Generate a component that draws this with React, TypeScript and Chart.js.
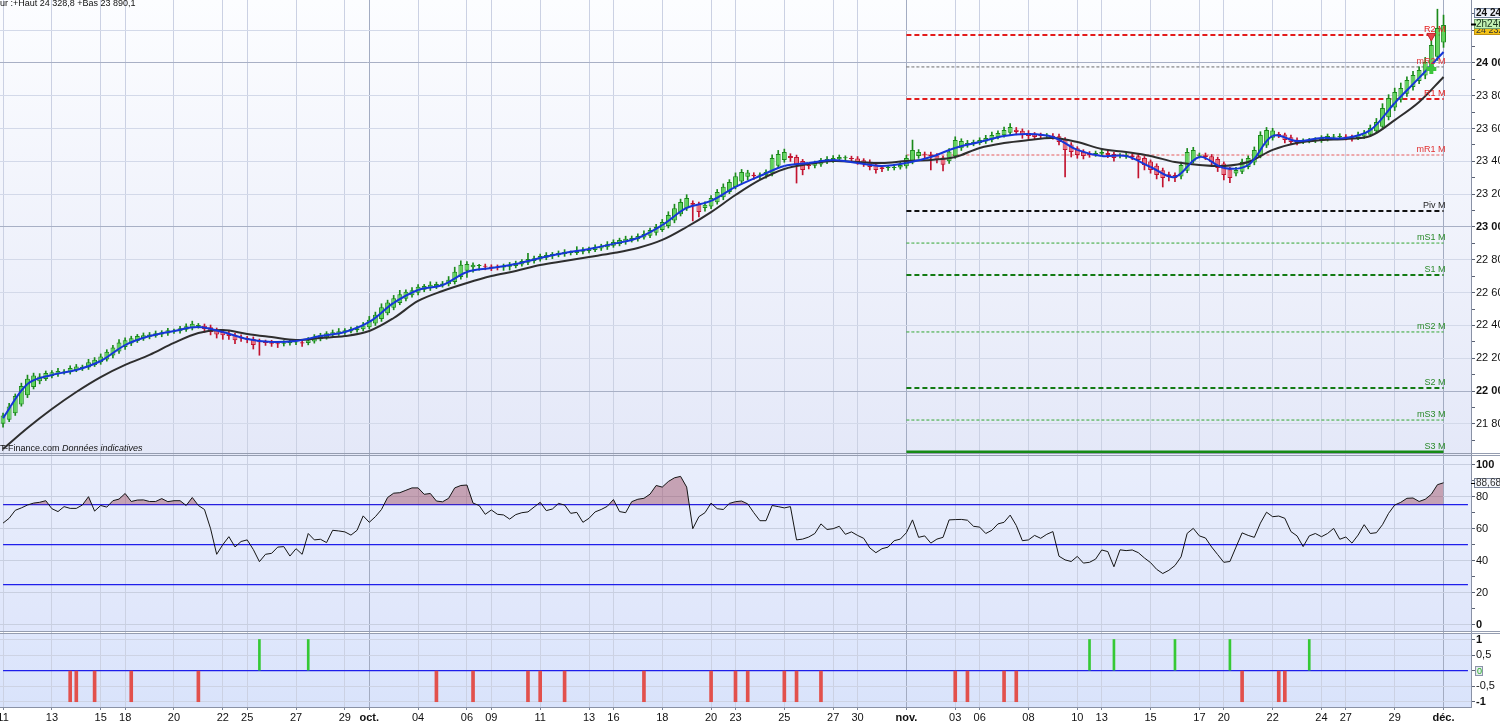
import { useEffect, useRef } from 'react';
import { Chart, registerables } from 'chart.js';

Chart.register(...registerables);

const FONT = "'Liberation Sans', Arial, Helvetica, sans-serif";

// ---------------- data ----------------
const days = ['11','12','13','14','15','18','19','20','21','22','25','26','27','28','29','oct.','03','04','05','06','09','10','11','12','13','16','17','18','19','20','23','24','25','26','27','30','31','nov.','02','03','06','07','08','09','10','13','14','15','16','17','20','21','22','23','24','27','28','29','30','déc.'];
const shownDays = [0, 2, 4, 5, 7, 9, 10, 12, 14, 15, 17, 19, 20, 22, 24, 25, 27, 29, 30, 32, 34, 35, 37, 39, 40, 42, 44, 45, 47, 49, 50, 52, 54, 55, 57, 59];
const monthStartDays = [15, 37, 59];
const candlesPerDay = 4;

const firstOpen = 21800;
const closes = [
  21850, 21905, 21970, 22030, 22075, 22095, 22088, 22110, 22115, 22122, 22118, 22140,
  22150, 22148, 22175, 22190, 22210, 22240, 22265, 22295, 22310, 22322, 22335, 22340,
  22345, 22352, 22358, 22370, 22368, 22382, 22395, 22410, 22400, 22378, 22360, 22345,
  22340, 22335, 22310, 22320, 22312, 22280, 22298, 22292, 22288, 22285, 22295, 22300,
  22298, 22290, 22310, 22330, 22340, 22352, 22358, 22365, 22370, 22378, 22382, 22400,
  22435, 22465, 22510, 22540, 22565, 22590, 22605, 22615, 22635, 22640, 22648, 22652,
  22656, 22678, 22727, 22770, 22775, 22770, 22762, 22757, 22750, 22752, 22762, 22768,
  22780, 22792, 22805, 22810, 22823, 22830, 22835, 22842, 22848, 22842, 22855, 22860,
  22865, 22878, 22885, 22895, 22908, 22920, 22928, 22933, 22945, 22958, 22982, 23000,
  23030, 23073, 23115, 23152, 23177, 23135, 23092, 23135, 23177, 23213, 23245, 23275,
  23310, 23335, 23332, 23310, 23318, 23335, 23420, 23445, 23457, 23420, 23378, 23348,
  23372, 23390, 23409, 23415, 23420, 23427, 23420, 23415, 23396, 23385, 23366, 23348,
  23354, 23360, 23366, 23378, 23420, 23470, 23458, 23440, 23430, 23410, 23380, 23460,
  23530, 23524, 23512, 23518, 23530, 23543, 23561, 23573, 23591, 23610, 23580, 23561,
  23555, 23549, 23555, 23558, 23549, 23518, 23470, 23457, 23439, 23433, 23439, 23451,
  23457, 23439, 23420, 23433, 23439, 23427, 23409, 23378, 23348, 23317, 23299, 23311,
  23299, 23378, 23457, 23470, 23439, 23427, 23396, 23360, 23317, 23299, 23348, 23396,
  23420, 23470, 23561, 23591, 23588, 23561, 23530, 23518, 23512, 23524, 23530, 23533,
  23543, 23555, 23549, 23555, 23543, 23537, 23561, 23573, 23604, 23640, 23726, 23787,
  23823, 23848, 23896, 23927, 23957, 24006, 24110, 24213, 24232,
];
const wickUp = [
  15, 20, 12, 18, 22, 14, 18, 12, 10, 16, 12, 14, 12, 10, 18, 14, 16, 12, 14, 18,
  14, 12, 10, 14, 12, 14, 10, 12, 10, 12, 14, 16, 12, 10, 14, 10, 12, 14, 10, 16,
  10, 12, 18, 12, 14, 10, 12, 14, 10, 12, 16, 14, 12, 10, 14, 16, 10, 12, 14, 18,
  20, 16, 22, 14, 18, 24, 12, 16, 14, 10, 18, 12, 12, 20, 28, 24, 14, 12, 10, 12,
  10, 14, 12, 16, 12, 10, 35, 12, 12, 14, 10, 12, 14, 12, 25, 14, 12, 14, 10, 16,
  14, 12, 16, 12, 14, 18, 12, 16, 16, 20, 24, 18, 20, 14, 12, 18, 14, 16, 18, 14,
  20, 16, 14, 12, 12, 14, 20, 22, 18, 14, 12, 10, 14, 12, 10, 14, 16, 12, 14, 12,
  12, 10, 14, 12, 10, 14, 12, 16, 18, 60, 14, 12, 14, 12, 10, 18, 20, 14, 16, 12,
  14, 16, 18, 14, 18, 20, 14, 12, 14, 12, 16, 12, 12, 14, 10, 12, 10, 12, 14, 12,
  14, 12, 10, 14, 12, 10, 14, 10, 10, 12, 14, 12, 14, 18, 22, 16, 12, 14, 10, 12,
  10, 12, 16, 18, 14, 18, 20, 16, 14, 12, 10, 14, 12, 14, 10, 12, 14, 12, 16, 14,
  12, 14, 18, 16, 18, 22, 26, 20, 24, 30, 20, 22, 20, 28, 60, 115, 60,
];
const wickDn = [
  20, 12, 14, 10, 14, 12, 16, 10, 12, 14, 10, 12, 10, 14, 12, 10, 12, 10, 14, 12,
  14, 12, 10, 12, 12, 10, 14, 12, 10, 12, 10, 12, 14, 20, 18, 22, 25, 20, 22, 18,
  18, 24, 80, 14, 16, 20, 14, 12, 14, 18, 12, 10, 10, 12, 14, 10, 12, 10, 12, 10,
  10, 12, 14, 10, 12, 10, 14, 12, 14, 12, 16, 14, 12, 10, 12, 14, 40, 30, 25, 18,
  16, 14, 18, 20, 12, 10, 12, 14, 10, 12, 14, 10, 14, 12, 10, 12, 12, 10, 12, 14,
  10, 12, 14, 10, 12, 10, 12, 14, 10, 12, 14, 10, 14, 98, 30, 20, 14, 12, 16, 10,
  12, 14, 18, 20, 22, 18, 14, 12, 14, 20, 110, 30, 18, 14, 12, 10, 12, 14, 16, 12,
  14, 16, 18, 20, 16, 14, 12, 10, 12, 10, 14, 18, 82, 20, 38, 14, 12, 14, 16, 12,
  10, 12, 14, 10, 12, 14, 18, 20, 16, 14, 12, 14, 14, 18, 165, 30, 20, 18, 14, 12,
  14, 16, 18, 12, 14, 16, 110, 30, 20, 24, 55, 30, 22, 14, 12, 10, 14, 16, 20, 22,
  30, 28, 14, 12, 12, 14, 10, 12, 14, 16, 18, 14, 12, 14, 10, 12, 14, 12, 10, 12,
  12, 14, 10, 12, 10, 12, 14, 16, 18, 14, 16, 20, 16, 20, 18, 22, 30,
];
// fast moving average (blue/red) and slow moving average (black), one reading per day + last candle
const emaDaily = [
  21835, 22043, 22098, 22128, 22183, 22280, 22335, 22366, 22390, 22360,
  22317, 22299, 22305, 22335, 22360, 22421, 22537, 22616, 22646, 22726,
  22750, 22774, 22811, 22841, 22866, 22897, 22933, 23012, 23116, 23159,
  23244, 23311, 23372, 23390, 23409, 23390, 23372, 23390, 23427, 23482,
  23518, 23555, 23567, 23549, 23470, 23433, 23433, 23366, 23305, 23427,
  23360, 23378, 23555, 23524, 23543, 23543, 23591, 23756, 23909, 24067,
];
const smaDaily = [
  21646, 21774, 21890, 21994, 22085, 22159, 22220, 22293, 22354, 22372,
  22348, 22329, 22311, 22323, 22335, 22366, 22445, 22549, 22610, 22659,
  22701, 22732, 22768, 22793, 22817, 22841, 22872, 22921, 23000, 23091,
  23195, 23287, 23354, 23384, 23402, 23396, 23390, 23402, 23409, 23427,
  23482, 23512, 23530, 23543, 23518, 23476, 23457, 23433, 23396, 23378,
  23372, 23396, 23470, 23512, 23530, 23537, 23555, 23652, 23762, 23915,
];
const rsi = [
  63.5, 66.5, 71.5, 73, 74.8, 76, 76.5, 77.5, 72.5, 70.7,
  73.8, 72.7, 72.7, 74.8, 80, 71, 74.5, 73.5, 77.5, 78.5,
  82, 77, 77.9, 78, 77, 77, 78.8, 76.9, 77.5, 77.5,
  74.5, 79.5, 74.5, 72, 60, 44, 50, 55, 48.6, 52,
  53, 47, 39.4, 44, 44.6, 48.5, 48.8, 42.9, 47.5, 44,
  57, 53, 53.4, 51.3, 59, 58.6, 58, 56, 59, 68,
  64, 67.5, 72, 79.5, 82.2, 82.5, 84, 85.5, 85.5, 81.5,
  82, 77.3, 76.8, 79, 85.5, 87, 87.3, 76, 74.5, 69,
  71.7, 69, 68.6, 66, 68.8, 70, 70.5, 73.5, 76.5, 71.3,
  72.3, 75.8, 74.8, 69.6, 70.2, 64, 66.5, 70.5, 72, 74,
  78.2, 70.7, 70, 76.9, 78.4, 79, 81.6, 87, 86, 89.5,
  91.8, 92.7, 86, 60, 67.5, 70, 76, 72.5, 72, 75.8,
  76.9, 77.3, 75.5, 70, 65, 65, 74.5, 73.8, 73, 73.8,
  53, 53.5, 54.8, 57, 63, 59.5, 60, 61.5, 56.5, 58,
  55.8, 54, 48, 45, 47.5, 48.5, 52.5, 53.5, 57.5, 65.5,
  54.6, 55.5, 51, 53.5, 54.6, 65.5, 65.7, 65.8, 65.3, 61.5,
  61, 57, 59, 63, 64, 68.5, 62, 52.5, 53, 55.8,
  54, 56.5, 58.2, 42.8, 40.5, 39.5, 42.7, 38.5, 39, 41,
  46.7, 45.7, 36.2, 46.8, 46.3, 46.7, 45, 41.7, 38.8, 34.6,
  32, 34, 37, 42.4, 57.1, 60.2, 55.5, 54.2, 48.6, 43.8,
  39, 39.5, 48.5, 57.4, 55.8, 54.6, 63.5, 70.3, 67.5, 67.9,
  66.5, 58.2, 55.5, 48.8, 55.5, 57, 55, 57, 60.2, 53.4,
  54.8, 51, 56, 62.5, 57, 57.5, 62.5, 69.6, 74.8, 76.5,
  79, 79.2, 77, 78.4, 81.5, 87.5, 88.7,
];
const rsiLevels = [75, 50, 25];
const rsiLastText = '88,686';
const signalZero = 0;

const pivotNames = ['R2 M', 'mR2 M', 'R1 M', 'mR1 M', 'Piv M', 'mS1 M', 'S1 M', 'mS2 M', 'S2 M', 'mS3 M', 'S3 M'];
const pivotValues = [24171, 23976, 23780, 23439, 23098, 22902, 22707, 22360, 22018, 21823, 21628];
const pivotStartDay = 37;

const buySignals = [42, 50, 178, 182, 192, 201, 214];
const sellSignals = [11, 12, 15, 21, 32, 71, 77, 86, 88, 92, 105, 116, 120, 122, 128, 130, 134, 156, 158, 164, 166, 203, 209, 210];

const markerIndex = 234;
const sellMarkerValue = 24165;
const buyMarkerValue = 23963;

const headerText = 'ur :+Haut 24 328,8 +Bas 23 890,1';
const sourceText = 'T-Finance.com';
const noteText = 'Données indicatives';
const lastPrice = 24240;
const lastPriceText = '24 240';
const timerText = '2h24m';
const closeText = '24 232';

// ---------------- styles ----------------
const pivotStyles = [
  { color: '#e31b1b', label: '#e31b1b', width: 2, dash: [5, 3] },
  { color: '#6a6a6a', label: '#e03030', width: 1, dash: [3, 2] },
  { color: '#e31b1b', label: '#e31b1b', width: 2, dash: [5, 3] },
  { color: '#e65a5a', label: '#e03030', width: 1, dash: [3, 2] },
  { color: '#111111', label: '#222222', width: 2, dash: [5, 3] },
  { color: '#2fa52f', label: '#2a8a2a', width: 1, dash: [3, 2] },
  { color: '#137a13', label: '#2a8a2a', width: 2, dash: [5, 3] },
  { color: '#2fa52f', label: '#2a8a2a', width: 1, dash: [3, 2] },
  { color: '#137a13', label: '#2a8a2a', width: 2, dash: [5, 3] },
  { color: '#2fa52f', label: '#2a8a2a', width: 1, dash: [3, 2] },
  { color: '#168a16', label: '#2a8a2a', width: 3, dash: [] as number[] },
];
const AXIS_W = 29;
const GREEN_FILL = '#5fd35a';
const GREEN_LINE = '#1b8a1b';
const RED_FILL = '#ea6b7b';
const RED_LINE = '#c2132f';
const LEVEL_BLUE = 'rgb(30,30,235)';

// ---------------- derived tables ----------------
const N = closes.length;
const NS = N + candlesPerDay;
const slots = Array.from({ length: NS }, (_, i) => i);
const labels = slots.map((i) => (i < N ? days[Math.floor(i / candlesPerDay)] : ''));
// smoothed (Heikin-Ashi style) candle opens: midpoint of the previous body
const opens: number[] = [];
closes.forEach((c, i) => {
  opens.push(i === 0 ? firstOpen : (opens[i - 1] + closes[i - 1]) / 2);
});
const isUp = closes.map((c, i) => c >= opens[i]);
const bodyData = slots.map((i) => (i < N ? [opens[i], closes[i]] : null));
const wickData = slots.map((i) =>
  i < N ? [Math.min(opens[i], closes[i]) - wickDn[i], Math.max(opens[i], closes[i]) + wickUp[i]] : null
);
const dailyToSlots = (arr: number[]) =>
  slots.map((i) => (i % candlesPerDay === 0 && i / candlesPerDay < arr.length ? arr[i / candlesPerDay] : null));
const emaData = dailyToSlots(emaDaily);
const smaData = dailyToSlots(smaDaily);
const rsiData = slots.map((i) => (i < N ? rsi[i] : null));
const pivotStart = pivotStartDay * candlesPerDay;
const buyData = slots.map((i) => (buySignals.includes(i) ? 1 : null));
const sellData = slots.map((i) => (sellSignals.includes(i) ? -1 : null));
const markerData = (v: number) => slots.map((i) => (i === markerIndex ? v : null));
const levelData = (v: number) => slots.map(() => v);

const shownSet = new Set(shownDays.map((d) => d * candlesPerDay));
const monthSet = new Set(monthStartDays.map((d) => d * candlesPerDay));
const fmtK = (v: number) => String(Math.round(v)).replace(/\B(?=(\d{3})+(?!\d))/g, ' ');

function xScale(withLabels: boolean) {
  return {
    type: 'category',
    offset: true,
    afterBuildTicks: (s: any) => {
      s.ticks = s.ticks.filter((t: any) => shownSet.has(t.value));
    },
    afterFit: (s: any) => {
      s.paddingLeft = 0;
      s.paddingRight = 0;
      s.height = withLabels ? 15 : 0;
    },
    grid: {
      offset: false,
      drawTicks: withLabels,
      tickLength: 3,
      tickColor: '#7d869a',
      color: (c: any) => (c.tick && monthSet.has(c.tick.value) ? '#a3acc2' : '#cbd1e3'),
      lineWidth: 1,
    },
    border: { display: withLabels, color: '#8a92a6' },
    ticks: {
      display: withLabels,
      autoSkip: false,
      maxRotation: 0,
      minRotation: 0,
      padding: 1,
      color: '#111',
      font: (c: any) => ({ family: FONT, size: 11, weight: c.tick && monthSet.has(c.tick.value) ? 'bold' : 'normal' }),
    },
  };
}

function yScale(min: number, max: number, step: number, label: (v: number) => string, grid: (v: number) => string, bold: (v: number) => boolean) {
  return {
    type: 'linear',
    position: 'right',
    min,
    max,
    afterFit: (s: any) => {
      s.width = AXIS_W;
      s.paddingTop = 0;
      s.paddingBottom = 0;
    },
    ticks: {
      stepSize: step,
      includeBounds: false,
      autoSkip: false,
      padding: 1,
      color: '#111',
      callback: (v: any) => label(Number(v)),
      font: (c: any) => ({ family: FONT, size: 11, weight: c.tick && bold(c.tick.value) ? 'bold' : 'normal' }),
    },
    grid: {
      color: (c: any) => (c.tick ? grid(c.tick.value) : 'rgba(0,0,0,0)'),
      tickLength: 4,
      tickColor: '#5a6274',
      drawTicks: true,
    },
    border: { display: true, color: '#8a92a6' },
  };
}

const bgPlugin = (top: string, bottom: string, topInset: number) => ({
  id: 'panelBg',
  beforeDraw(chart: any) {
    const { ctx, chartArea: a } = chart;
    const g = ctx.createLinearGradient(0, a.top, 0, a.bottom);
    g.addColorStop(0, top);
    g.addColorStop(1, bottom);
    ctx.save();
    ctx.fillStyle = g;
    ctx.fillRect(a.left, a.top + topInset, a.right - a.left, a.bottom - a.top - topInset);
    ctx.restore();
  },
});

const baseOptions = {
  animation: false,
  responsive: false,
  devicePixelRatio: 1,
  events: [],
  layout: { padding: 0, autoPadding: false },
  plugins: { legend: { display: false }, tooltip: { enabled: false } },
};

function hLine(ctx: any, y: number, x0: number, x1: number, color: string, w = 1) {
  ctx.save();
  ctx.setLineDash([]);
  ctx.strokeStyle = color;
  ctx.lineWidth = w;
  ctx.beginPath();
  ctx.moveTo(x0, y);
  ctx.lineTo(x1, y);
  ctx.stroke();
  ctx.restore();
}

function tagBox(ctx: any, x: number, y: number, w: number, h: number, fill: string, stroke: string, text: string, color: string, font: string) {
  ctx.save();
  ctx.fillStyle = fill;
  ctx.fillRect(x, y, w, h);
  ctx.strokeStyle = stroke;
  ctx.lineWidth = 1;
  ctx.strokeRect(x + 0.5, y + 0.5, w - 1, h - 1);
  ctx.fillStyle = color;
  ctx.font = font;
  ctx.textAlign = 'left';
  ctx.textBaseline = 'middle';
  ctx.fillText(text, x + 2, y + h / 2 + 0.5);
  ctx.restore();
}

const levelDataset = (v: number) => ({
  type: 'line',
  data: levelData(v),
  borderColor: LEVEL_BLUE,
  borderWidth: 1.2,
  pointRadius: 0,
  fill: false,
  clip: false,
});

function buildMain() {
  const pivotSets = pivotValues.map((v, k) => ({
    type: 'line',
    data: slots.map((i) => (i >= pivotStart && i < N ? v : null)),
    borderColor: pivotStyles[k].color,
    borderWidth: pivotStyles[k].width,
    borderDash: pivotStyles[k].dash,
    pointRadius: 0,
    fill: false,
  }));
  const decor = {
    id: 'mainDecor',
    afterDatasetsDraw(chart: any) {
      const { ctx } = chart;
      const ys = chart.scales.y;
      const xs = chart.scales.x;
      const xr = xs.getPixelForValue(N - 1) + 2;
      ctx.save();
      ctx.font = `9px ${FONT}`;
      ctx.textAlign = 'right';
      ctx.textBaseline = 'bottom';
      pivotNames.forEach((n, k) => {
        ctx.fillStyle = pivotStyles[k].label;
        ctx.fillText(n, xr, Math.round(ys.getPixelForValue(pivotValues[k])) - 1);
      });
      ctx.restore();
    },
    afterDraw(chart: any) {
      const { ctx, chartArea: a } = chart;
      const ys = chart.scales.y;
      ctx.save();
      ctx.fillStyle = '#111';
      ctx.font = `9px ${FONT}`;
      ctx.textAlign = 'left';
      ctx.textBaseline = 'top';
      ctx.fillText(headerText, 0, -1);
      ctx.textBaseline = 'alphabetic';
      ctx.fillText(sourceText, 0, 451);
      const w = ctx.measureText(sourceText + ' ').width;
      ctx.font = `italic 9px ${FONT}`;
      ctx.fillText(noteText, w, 451);
      ctx.restore();
      hLine(ctx, a.bottom - 1.5, 0, 1500, '#959db0');
      const yp = Math.round(ys.getPixelForValue(lastPrice));
      tagBox(ctx, a.right + 3, yp + 2, 30, 9, '#f2c218', '#c09010', closeText, '#333', `9px ${FONT}`);
      tagBox(ctx, a.right + 3, yp - 5, 30, 10, '#c3f2b4', '#6f9f6f', timerText, '#17331a', `10px ${FONT}`);
      tagBox(ctx, a.right + 3, yp - 16, 30, 10, '#eef2fa', '#6f7f99', lastPriceText, '#111', `bold 10px ${FONT}`);
      hLine(ctx, yp + 0.5, a.right, a.right + 5, '#000', 2);
    },
  };
  return {
    type: 'bar',
    data: {
      labels,
      datasets: [
        {
          type: 'line', data: markerData(sellMarkerValue), showLine: false, pointStyle: 'triangle', rotation: 180,
          pointRadius: 5, pointBackgroundColor: '#e8404a', pointBorderColor: '#c0202a', pointBorderWidth: 1,
        },
        {
          type: 'line', data: markerData(buyMarkerValue), showLine: false, pointStyle: 'cross',
          pointRadius: 5, pointBorderColor: '#3bc43b', pointBorderWidth: 4,
        },
        {
          type: 'line', data: emaData, borderColor: '#1535d8', borderWidth: 2, pointRadius: 0, spanGaps: true, tension: 0.35,
          segment: { borderColor: (c: any) => (c.p1.parsed.y < c.p0.parsed.y ? '#e0153a' : '#1535d8') },
        },
        { type: 'line', data: smaData, borderColor: '#2e2e2e', borderWidth: 2, pointRadius: 0, spanGaps: true, tension: 0.35 },
        {
          type: 'bar', data: bodyData, grouped: false, barPercentage: 0.8, categoryPercentage: 1, minBarLength: 1,
          backgroundColor: slots.map((i) => (i < N ? (isUp[i] ? GREEN_FILL : RED_FILL) : 'rgba(0,0,0,0)')),
          borderColor: slots.map((i) => (i < N ? (isUp[i] ? GREEN_LINE : RED_LINE) : 'rgba(0,0,0,0)')),
          borderWidth: 1, borderSkipped: false,
        },
        {
          type: 'bar', data: wickData, grouped: false, barThickness: 1,
          backgroundColor: slots.map((i) => (i < N ? (isUp[i] ? GREEN_LINE : RED_LINE) : 'rgba(0,0,0,0)')),
          borderWidth: 0,
        },
        ...pivotSets,
      ],
    },
    options: {
      ...baseOptions,
      scales: {
        x: xScale(false),
        y: yScale(
          21609.8, 24384.1, 100,
          (v) => (v % 200 === 0 ? fmtK(v) : ''),
          (v) => (v % 1000 === 0 ? '#a8b0c5' : v % 200 === 0 ? '#d3d9e9' : 'rgba(0,0,0,0)'),
          (v) => v % 1000 === 0
        ),
      },
    },
    plugins: [bgPlugin('#fcfdff', '#e4e8f8', 0), decor],
  };
}

function buildRsi() {
  const decor = {
    id: 'rsiDecor',
    afterDraw(chart: any) {
      const { ctx, chartArea: a } = chart;
      const ys = chart.scales.y;
      hLine(ctx, a.top + 0.5, 0, 1500, '#959db0');
      hLine(ctx, a.bottom - 0.5, 0, 1500, '#959db0');
      const yp = Math.round(ys.getPixelForValue(rsi[N - 1]));
      tagBox(ctx, a.right + 3, yp - 5, 30, 10, '#f5f7fc', '#7a8499', rsiLastText, '#333', `10px ${FONT}`);
      hLine(ctx, yp + 0.5, a.right, a.right + 4, '#000', 1);
    },
  };
  return {
    type: 'line',
    data: {
      labels,
      datasets: [
        {
          data: rsiData, borderColor: '#151515', borderWidth: 1, pointRadius: 0, tension: 0,
          fill: { target: { value: 75 }, above: 'rgba(150,60,80,0.42)', below: 'rgba(0,0,0,0)' },
        },
        ...rsiLevels.map((v) => levelDataset(v)),
      ],
    },
    options: {
      ...baseOptions,
      scales: {
        x: xScale(false),
        y: yScale(
          -4.56, 106.06, 10,
          (v) => (v % 20 === 0 ? String(v) : ''),
          (v) => (v % 20 === 0 ? '#c8cfe0' : 'rgba(0,0,0,0)'),
          (v) => v === 100 || v === 0
        ),
      },
    },
    plugins: [bgPlugin('#e9eefc', '#dfe6fb', 1), decor],
  };
}

function buildSig() {
  const decor = {
    id: 'sigDecor',
    afterDraw(chart: any) {
      const { ctx, chartArea: a } = chart;
      const ys = chart.scales.y;
      hLine(ctx, a.top + 1.5, 0, 1500, '#959db0');
      const yp = Math.round(ys.getPixelForValue(signalZero));
      tagBox(ctx, a.right + 4, yp - 5, 8, 10, '#e6e9f0', '#8a94a8', '0', '#22b022', `9px ${FONT}`);
    },
  };
  return {
    type: 'bar',
    data: {
      labels,
      datasets: [
        { data: buyData, grouped: false, barThickness: 2, backgroundColor: '#35c935', borderWidth: 0 },
        { data: sellData, grouped: false, barThickness: 3, backgroundColor: '#e2504c', borderWidth: 0 },
        levelDataset(signalZero),
      ],
    },
    options: {
      ...baseOptions,
      scales: {
        x: xScale(true),
        y: yScale(
          -1.17, 1.241, 0.5,
          (v) => (v === 0 ? '' : String(v).replace('.', ',')),
          (v) => (v === 0 ? 'rgba(0,0,0,0)' : '#cdd3e4'),
          (v) => Math.abs(v) === 1
        ),
      },
    },
    plugins: [bgPlugin('#dfe7fc', '#d9e3fb', 2), decor],
  };
}

export default function App() {
  const mainRef = useRef<HTMLCanvasElement>(null);
  const rsiRef = useRef<HTMLCanvasElement>(null);
  const sigRef = useRef<HTMLCanvasElement>(null);
  useEffect(() => {
    const charts = [
      new Chart(mainRef.current as HTMLCanvasElement, buildMain() as any),
      new Chart(rsiRef.current as HTMLCanvasElement, buildRsi() as any),
      new Chart(sigRef.current as HTMLCanvasElement, buildSig() as any),
    ];
    return () => charts.forEach((c) => c.destroy());
  }, []);
  return (
    <div style={{ position: 'fixed', left: 0, top: 0, width: 1500, height: 722, background: '#ffffff', overflow: 'hidden' }}>
      <canvas ref={mainRef} width={1500} height={455} style={{ position: 'absolute', left: 0, top: 0 }} />
      <canvas ref={rsiRef} width={1500} height={177} style={{ position: 'absolute', left: 0, top: 455 }} />
      <canvas ref={sigRef} width={1500} height={90} style={{ position: 'absolute', left: 0, top: 632 }} />
    </div>
  );
}
